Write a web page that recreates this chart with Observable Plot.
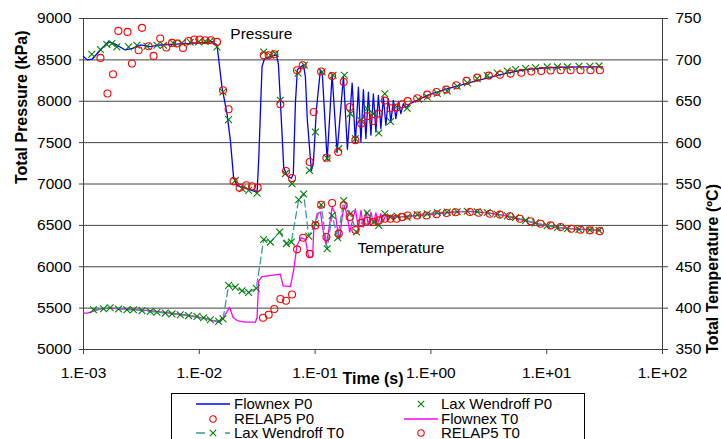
<!DOCTYPE html>
<html><head><meta charset="utf-8">
<script src="https://cdn.jsdelivr.net/npm/d3@7"></script>
<script src="https://cdn.jsdelivr.net/npm/@observablehq/plot@0.6"></script>
<style>
body{margin:0;background:#fff;font-family:'Liberation Sans',Arial,sans-serif;}
#wrap{position:relative;width:721px;height:439px;overflow:hidden;background:#fff;}
#chart svg{display:block;}
#legend{position:absolute;left:171px;top:392.5px;width:412px;height:60px;border:1px solid #000;background:#fff;}
.item{position:absolute;height:14px;font-size:15px;line-height:14px;white-space:nowrap;color:#000;}
.sw{position:absolute;}
</style></head><body>
<div id="wrap"><div id="chart"></div><div id="legend"></div></div>
<script>
// ---- axis ticks & labels ----
const xTicks = [1e-3, 1e-2, 1e-1, 1e0, 1e1, 1e2];
const xTickLabels = ["1.E-03", "1.E-02", "1.E-01", "1.E+00", "1.E+01", "1.E+02"];
const pTicks = [5000, 5500, 6000, 6500, 7000, 7500, 8000, 8500, 9000];
const tTickLabels = [350, 400, 450, 500, 550, 600, 650, 700, 750];

// ---- Flownex P0 (kPa) ----
const fxPTime = [0.00100,0.00108,0.00119,0.00140,0.00164,0.00188,0.00229,0.00264,0.00309,0.00377,0.00460,0.00620,0.00836,0.0113,0.01294,0.01422,0.0157,0.01734,0.01854,0.01977,0.02118,0.025,0.0287,0.03155,0.03258,0.03483,0.03648,0.04111,0.04634,0.04819,0.05012,0.05358,0.05728,0.06237,0.06486,0.06761,0.07031,0.07925,0.08241,0.0857,0.0929,0.09661,0.1026,0.1112,0.1156,0.1271,0.1403,0.1549,0.1758,0.1901,0.2089,0.2228,0.2366,0.2487,0.2613,0.2746,0.2886,0.3033,0.3187,0.3349,0.352,0.3699,0.3887,0.4085,0.4293,0.4512,0.4741,0.4983,0.5236,0.5503,0.5783,0.6077,0.66,0.93,1.38,1.80,2.51,3.50,4.88,6.79,10.1,18.4,30.3];
const fxP = [8540,8500,8510,8620,8720,8690,8620,8640,8680,8660,8680,8690,8700,8710,8720,8680,8170,7850,7530,7080,6980,6950,6920,6900,7290,8420,8510,8540,8560,8450,8010,7200,7100,7070,7120,7980,8380,8440,8300,7770,7160,7250,7900,8380,8320,7290,8320,7380,8300,7420,8220,7500,8170,7510,8140,7550,8110,7590,8090,7630,8070,7670,8050,7710,8030,7750,8010,7790,7990,7850,7970,7920,7970,8070,8150,8195,8250,8300,8350,8385,8405,8415,8415];

// ---- Lax Wendroff P0 (kPa) ----
const lwPTime = [0.00118,0.00140,0.00159,0.00176,0.00194,0.00245,0.00289,0.00353,0.00431,0.00491,0.00600,0.00709,0.00836,0.00986,0.01127,0.01245,0.01422,0.01603,0.01791,0.02047,0.02339,0.02667,0.03155,0.03597,0.04111,0.04539,0.05012,0.05535,0.06324,0.07129,0.08083,0.08929,0.1006,0.115,0.1271,0.1431,0.16,0.1791,0.2018,0.2228,0.2465,0.2812,0.317,0.3546,0.3999,0.4477,0.5047,0.6237,0.7816,0.929,1.134,1.383,1.687,2.06,2.51,3.07,3.74,4.57,5.39,6.57,8.02,10.1,12.4,15.1,19.0,23.6,28.3];
const lwP = [8568,8625,8686,8698,8657,8657,8677,8665,8677,8677,8698,8705,8713,8717,8725,8729,8657,8112,7778,7044,6944,6923,6890,8596,8556,8577,8012,7125,7004,8340,8435,7165,7628,8354,7310,8314,7427,8314,7851,7548,7770,7911,7851,7616,8090,7755,7935,7915,8025,8052,8095,8125,8181,8222,8274,8310,8342,8366,8383,8395,8403,8415,8415,8415,8423,8423,8427];

// ---- RELAP5 P0 (kPa) ----
const rpPTime = [0.00140,0.00161,0.00180,0.00200,0.00240,0.00262,0.00299,0.00320,0.00365,0.00403,0.00460,0.00519,0.00581,0.00641,0.00723,0.00808,0.00906,0.01006,0.01127,0.01262,0.01422,0.01603,0.01791,0.01977,0.02228,0.02547,0.02855,0.03192,0.03597,0.03972,0.04446,0.05012,0.0561,0.06324,0.06982,0.07816,0.08977,0.09727,0.1127,0.1253,0.1403,0.1581,0.1766,0.1991,0.2228,0.25,0.2812,0.317,0.3546,0.3999,0.4477,0.5047,0.5649,0.631,0.7621,0.929,1.117,1.355,1.656,2.032,2.512,3.163,3.945,4.875,6.026,7.36,8.97,10.81,13.2,16.1,19.6,23.9,28.8];
const rpP = [8524,8093,8326,8850,8838,8456,8617,8887,8665,8548,8758,8649,8705,8698,8644,8729,8746,8746,8738,8738,8717,8133,7903,7032,6956,6984,6972,6956,8556,8556,8568,7964,7157,7072,8375,8435,7266,7870,8360,7318,8304,7387,8233,7931,7528,7730,7818,7762,7851,8008,7915,7923,7963,8002,8036,8080,8112,8141,8193,8246,8286,8310,8320,8334,8345,8360,8366,8372,8375,8375,8375,8375,8375];

// ---- Flownex T0 (degC) ----
const fxTTime = [0.00100,0.00108,0.00140,0.00170,0.00377,0.00732,0.01166,0.01469,0.01622,0.01828,0.01955,0.02118,0.025,0.03048,0.03155,0.03258,0.03483,0.05012,0.0529,0.06117,0.06531,0.06982,0.07568,0.08241,0.08805,0.09531,0.09727,0.1041,0.1112,0.1173,0.1245,0.1311,0.1403,0.1498,0.1568,0.1632,0.1711,0.1791,0.1891,0.1991,0.2089,0.2228,0.2366,0.2487,0.2613,0.2746,0.2886,0.3033,0.3187,0.3349,0.352,0.3699,0.3887,0.4085,0.4293,0.4512,0.4741,0.4983,0.5236,0.6,0.813,1.578,2.20,3.07,4.27,5.95,8.29,11.5,16.1,22.4,29.2];
const fxT = [394,394,399,400,397,392,387,383,389,401,389,385,383,383,389,433,438,441,427,426,446,476,485,483,461,462,494,514,516,494,476,494,522,514,492,484,510,524,512,492,504,520,496,518,498,517,500,516,502,515,504,514,505,513,507,512,508,511,510,511,512,516,517,515,512,507,502,498,496,495,494];

// ---- Lax Wendroff T0 (degC) ----
const lwTTime = [0.00122,0.00149,0.00170,0.00201,0.00237,0.00270,0.00320,0.00377,0.00431,0.00508,0.00581,0.00685,0.00808,0.00955,0.01089,0.01245,0.01469,0.01603,0.01791,0.02047,0.02339,0.02667,0.03109,0.03597,0.04111,0.04943,0.05649,0.06237,0.07211,0.0797,0.08805,0.1006,0.1127,0.1271,0.1403,0.1568,0.1766,0.2018,0.2275,0.2812,0.3211,0.3546,0.3999,0.4477,0.5117,0.6237,0.7621,0.929,1.134,1.383,1.687,2.06,2.51,3.07,3.74,4.57,5.39,6.57,8.02,10.1,12.4,15.1,19.0,23.6,28.3];
const lwT = [398,399.3,400.4,399,398,398,397,396,395,394,393,392,391,390,388.4,386,384,387,427.5,425.4,421,419,424,483,479.8,491.9,478,479.8,531,538,487,502,525,471.8,512,485,530,514,492,515,504,500,514,510,511,510,513,514,515.5,516,516.5,517,516.5,515.5,513.5,511.5,509.5,506,503,499.5,497.5,496,495,494.5,494];

// ---- RELAP5 T0 (degC) ----
const rpTTime = [0.03553,0.03972,0.04446,0.05012,0.0561,0.06324,0.06982,0.0787,0.08977,0.1006,0.1127,0.1253,0.1403,0.16,0.1766,0.1991,0.2228,0.25,0.2812,0.317,0.3546,0.3999,0.4477,0.5047,0.5649,0.631,0.7621,0.916,1.117,1.364,1.631,2.17,2.59,3.23,3.94,4.81,5.87,7.26,8.85,10.8,13.2,16.3,19.6,23.6,28.8];
const rpT = [388.4,392,399,411,409,416.5,471,485,465.5,500,525,486,527,490,524,510,494.5,503,505.5,504,506,508,508,508,510,512,512,512,513.4,515,515.8,516.2,515.3,514,513,511,508,505,502,500,498,496,494.8,494,493];

// ---- annotations ----
const annLabels = ["Pressure", "Temperature"];
const annTime = [0.01854, 0.2318];
const annP = [8810, 6222];

// temperature is drawn on the pressure scale (right axis: 350..750 over 5000..9000)
const tToP = T => 5000 + (T - 350) * 10;
const zipP = (ts, vs) => ts.map((t, i) => ({t, v: vs[i]}));
const zipT = (ts, vs) => ts.map((t, i) => ({t, v: tToP(vs[i])}));

const flownexP0 = zipP(fxPTime, fxP);
const laxP0 = zipP(lwPTime, lwP);
const relapP0 = zipP(rpPTime, rpP);
const flownexT0 = zipT(fxTTime, fxT);
const laxT0 = zipT(lwTTime, lwT);
const relapT0 = zipT(rpTTime, rpT);
const ann = annLabels.map((s, i) => ({s, t: annTime[i], v: annP[i]}));

const BLUE = "#0000ff", MAG = "#ff00ff", GREEN = "#008000", RED = "#ff0000", TEAL = "#3a9a9a", AX = "#404040";
const FONT = "'Liberation Sans', Arial, sans-serif";

const chart = Plot.plot({
  width: 721, height: 392,
  marginLeft: 83, marginRight: 59, marginTop: 18, marginBottom: 43,
  x: {type: "log", domain: [1e-3, 1e2]},
  y: {domain: [5000, 9000]},
  style: {fontFamily: FONT, fontSize: "15.5px", color: "#000", background: "#fff"},
  marks: [
    Plot.gridY(pTicks.slice(1), {stroke: AX, strokeOpacity: 1}),
    Plot.ruleY([5000], {stroke: AX}),
    Plot.ruleX([1e-3, 1e2], {stroke: AX}),
    Plot.axisX(xTicks, {tickFormat: d => xTickLabels[xTicks.indexOf(d)], tickSize: 5, tickPadding: 12, stroke: AX, label: null}),
    Plot.axisY(pTicks, {anchor: "left", tickFormat: d => String(d), tickSize: 4, tickPadding: 8, stroke: AX, label: null}),
    Plot.axisY(pTicks, {anchor: "right", tickFormat: d => String(tTickLabels[pTicks.indexOf(d)]), tickSize: 5, tickPadding: 8, stroke: AX, label: null}),
    Plot.text(["Total Pressure (kPa)"], {text: d => d, frameAnchor: "left", dx: -62, rotate: -90, fontWeight: "bold", fontSize: 16}),
    Plot.text(["Total Temperature (ºC)"], {text: d => d, frameAnchor: "right", dx: 50, rotate: -90, fontWeight: "bold", fontSize: 16}),
    Plot.text(["Time (s)"], {text: d => d, frameAnchor: "bottom", dy: 34, fontWeight: "bold", fontSize: 16}),
    Plot.text(ann, {x: "t", y: "v", text: "s", textAnchor: "start", fontSize: 15.5}),
    // series
    Plot.line(flownexP0, {x: "t", y: "v", stroke: BLUE, strokeWidth: 1.3}),
    Plot.dot(laxP0, {x: "t", y: "v", symbol: "times", r: 3.2, stroke: GREEN, strokeWidth: 1.1, fill: "none"}),
    Plot.dot(relapP0, {x: "t", y: "v", symbol: "circle", r: 3.5, stroke: RED, strokeWidth: 1.1, fill: "none"}),
    Plot.line(flownexT0, {x: "t", y: "v", stroke: MAG, strokeWidth: 1.3}),
    Plot.line(laxT0, {x: "t", y: "v", stroke: TEAL, strokeWidth: 1.3, strokeDasharray: "7,4"}),
    Plot.dot(laxT0, {x: "t", y: "v", symbol: "times", r: 3.2, stroke: GREEN, strokeWidth: 1.1, fill: "none"}),
    Plot.dot(relapT0, {x: "t", y: "v", symbol: "circle", r: 3.5, stroke: RED, strokeWidth: 1.1, fill: "none"})
  ]
});
document.getElementById("chart").appendChild(chart);

// ---- legend (HTML, below the SVG) ----
const legendItems = [
  {name: "Flownex P0", col: 0, row: 0, kind: "line", color: BLUE},
  {name: "Lax Wendroff P0", col: 1, row: 0, kind: "times", color: GREEN},
  {name: "RELAP5 P0", col: 0, row: 1, kind: "circle", color: RED},
  {name: "Flownex T0", col: 1, row: 1, kind: "line", color: MAG},
  {name: "Lax Wendroff T0", col: 0, row: 2, kind: "dashtimes", color: TEAL},
  {name: "RELAP5 T0", col: 1, row: 2, kind: "circle", color: RED}
];
const colSw = [21, 229], colTx = [62, 269], rowTop = [3.5, 18.2, 32.5];
const lg = document.getElementById("legend");
const xPath = (cx, cy, s) => `M${cx-s},${cy-s}L${cx+s},${cy+s}M${cx-s},${cy+s}L${cx+s},${cy-s}`;
for (const it of legendItems) {
  let g = "";
  if (it.kind === "line") g = `<line x1="3" x2="37" y1="7" y2="7" stroke="${it.color}" stroke-width="1.3"/>`;
  if (it.kind === "times") g = `<path d="${xPath(20, 7, 3.2)}" stroke="${it.color}" stroke-width="1.1" fill="none"/>`;
  if (it.kind === "circle") g = `<circle cx="20" cy="7" r="3.2" stroke="${it.color}" stroke-width="1.1" fill="none"/>`;
  if (it.kind === "dashtimes") g = `<line x1="3" x2="12" y1="7" y2="7" stroke="${it.color}" stroke-width="1.5"/><line x1="32" x2="37" y1="7" y2="7" stroke="${it.color}" stroke-width="1.5"/><path d="${xPath(20, 7, 3.2)}" stroke="${GREEN}" stroke-width="1.1" fill="none"/>`;
  const sw = document.createElement("div");
  sw.className = "sw";
  sw.style.left = colSw[it.col] + "px"; sw.style.top = rowTop[it.row] + "px";
  sw.innerHTML = `<svg width="40" height="14">${g}</svg>`;
  lg.appendChild(sw);
  const tx = document.createElement("div");
  tx.className = "item";
  tx.style.left = colTx[it.col] + "px"; tx.style.top = rowTop[it.row] + "px";
  tx.textContent = it.name;
  lg.appendChild(tx);
}
</script>
</body></html>
